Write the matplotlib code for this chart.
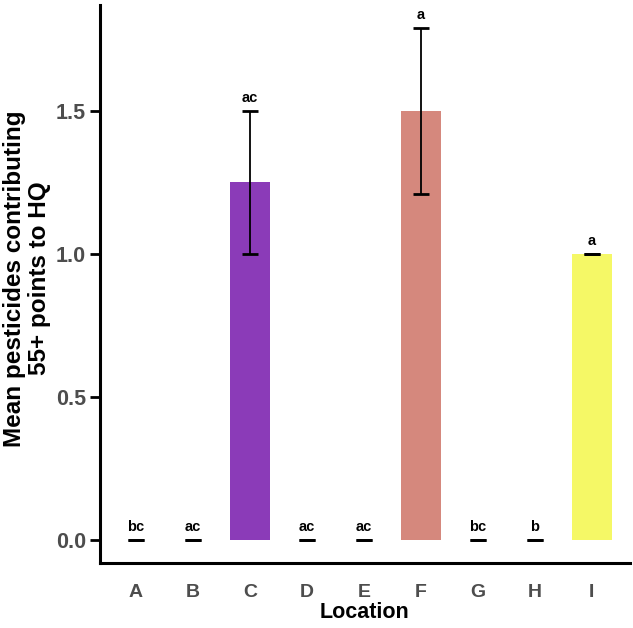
import matplotlib
matplotlib.use("Agg")
import matplotlib.pyplot as plt
import numpy as np

# datos
locations = ["A", "B", "C", "D", "E", "F", "G", "H", "I"]
means = [0, 0, 1.25, 0, 0, 1.5, 0, 0, 1.0]
errors = [0, 0, 0.25, 0, 0, 0.29, 0, 0, 0]
letters = ["bc", "ac", "ac", "ac", "ac", "a", "bc", "b", "a"]
colors = ["#8B3BB8" if l == "C" else "#D5887D" if l == "F" else "#F5F866"
          for l in locations]

plt.rcParams['font.family'] = ['Liberation Sans', 'DejaVu Sans']

fig = plt.figure(figsize=(6.33, 6.28), dpi=100)
ax = fig.add_axes([0.158, 0.1035, 0.837, 0.8885])

x = np.arange(len(locations))
ax.bar(x, means, width=0.7, color=colors)
ax.errorbar(x, means, yerr=errors, fmt="none", ecolor="black",
            elinewidth=1.3, capsize=5.5, capthick=2)

for xi, m, e, lab in zip(x, means, errors, letters):
    ax.text(xi, m + e + 0.02, lab, ha="center", va="bottom",
            fontsize=10.5, fontweight="bold", color="black")

ax.set_xlim(-0.63, 8.67)
ax.set_ylim(-0.08, 1.87)
ax.set_yticks([0.0, 0.5, 1.0, 1.5])
ax.set_yticklabels(["0.0", "0.5", "1.0", "1.5"])
ax.set_xticks(x)
ax.set_xticklabels(locations)

ax.spines["top"].set_visible(False)
ax.spines["right"].set_visible(False)
ax.spines["left"].set_linewidth(2.2)
ax.spines["bottom"].set_linewidth(2.2)

ax.tick_params(axis="y", length=7, width=2, labelsize=15.5, labelcolor="#4d4d4d", pad=3)
ax.tick_params(axis="x", length=0, labelsize=14, labelcolor="#4d4d4d", pad=15)
for t in ax.get_xticklabels() + ax.get_yticklabels():
    t.set_fontweight("bold")

ax.set_xlabel("Location", fontsize=15.5, fontweight="bold", labelpad=1)
ax.set_ylabel("Mean pesticides contributing\n55+ points to HQ", fontsize=17.5,
              fontweight="bold", linespacing=1.1)
ax.yaxis.set_label_coords(-0.092, 0.51)

fig.savefig("out.png", dpi=100)
